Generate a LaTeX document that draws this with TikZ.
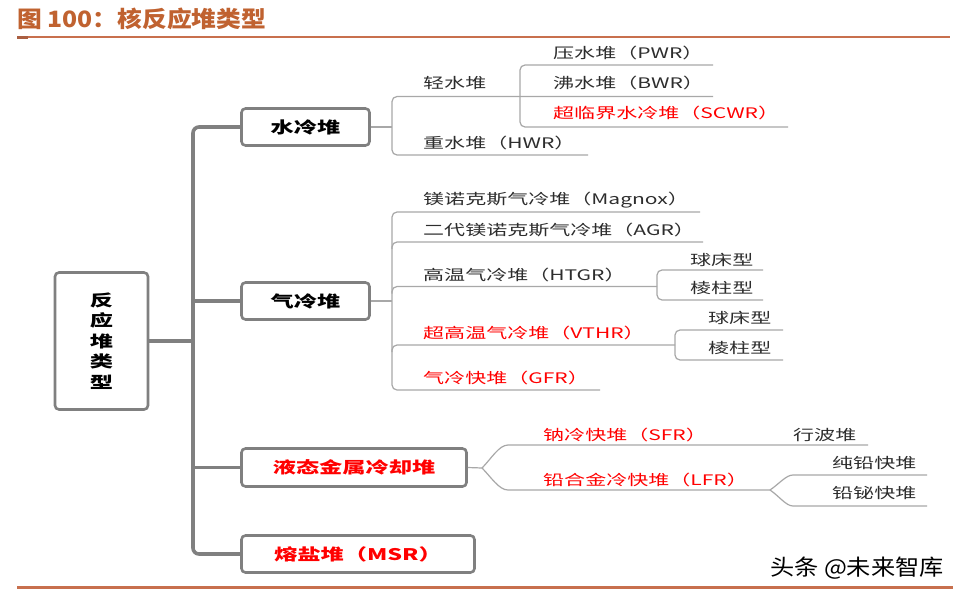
\documentclass[tikz,border=0pt]{standalone}
\usepackage{fontspec}
\newfontfamily\cjk[FakeStretch=1.45]{Noto Sans CJK SC}
\newfontfamily\hdfont[FakeStretch=1.1]{Noto Sans CJK SC}
\definecolor{hdc}{RGB}{192,98,48}
\definecolor{rulec}{RGB}{200,112,78}
\definecolor{boxc}{RGB}{128,128,128}
\definecolor{brc}{RGB}{168,168,168}
\definecolor{txtc}{RGB}{45,45,45}
\definecolor{redc}{RGB}{255,0,0}
\begin{document}
\begin{tikzpicture}[x=1pt,y=-1pt,
  box/.style={draw=boxc, line width=2.6pt, rounded corners=4pt, fill=white,
    font=\cjk\bfseries\fontsize{16}{20.5}\selectfont, inner sep=0pt},
  lbl/.style={anchor=west, inner sep=0pt, font=\cjk\fontsize{14.5}{16}\selectfont, text=txtc},
  rlbl/.style={lbl, text=redc},
  trunk/.style={draw=boxc, line width=3.6pt, rounded corners=6pt},
  br/.style={draw=brc, line width=1.2pt, rounded corners=5pt},
]
\useasboundingbox (0,0) rectangle (963,597);
\fill[white] (0,0) rectangle (963,597);

% header
\node[anchor=west, inner sep=0pt, text=hdc, font=\hdfont\bfseries\fontsize{22.5}{24}\selectfont] (title) at (17,19) {图 100：核反应堆类型};
\draw[rulec, line width=2pt] (17,36.5) -- (950,36.5);
\fill[rulec!85!black] (17,36) rectangle (28,38.5);
\draw[rulec, line width=3pt] (17,587) -- (953,587);

% boxes
\node[box, minimum width=93pt, minimum height=137pt, align=center] (root) at (101.5,341) {反\\应\\堆\\类\\型};
\node[box, minimum width=128pt, minimum height=37pt] (water) at (305.5,127) {水冷堆};
\node[box, minimum width=128pt, minimum height=37pt] (gas) at (305.5,301) {气冷堆};
\node[box, minimum width=225pt, minimum height=38pt, text=redc] (lm) at (354,467.5) {液态金属冷却堆};
\node[box, minimum width=233pt, minimum height=37pt, text=redc] (msr) at (358,554) {熔盐堆（MSR）};

% trunk
\coordinate (tk) at (193,341);
\draw[trunk] (water.west) -| (tk) |- (msr.west);
\draw[trunk] (root.east) -- (tk);
\draw[trunk] (gas.west) -- (gas.west -| tk);
\draw[trunk] (lm.west) -- (lm.west -| tk);

% water-cooled
\coordinate (wb) at (392,127);
\coordinate (lwE) at (713,96.5);
\coordinate (hwrE) at (588,155);
\coordinate (ib) at (520,96.5);
\coordinate (pwrE) at (713,65);
\coordinate (scwrE) at (788,127);
\draw[br] (water.east) -- (wb);
\draw[br] (lwE) -- (lwE -| wb) |- (hwrE);
\draw[br] (pwrE) -| (ib) |- (scwrE);
\node[lbl] (lw) at (423,83) {轻水堆};
\node[lbl] (pwr) at (553,53) {压水堆（PWR）};
\node[lbl] (bwr) at (553,83) {沸水堆（BWR）};
\node[rlbl] (scwr) at (553,113) {超临界水冷堆（SCWR）};
\node[lbl] (hwr) at (423,143) {重水堆（HWR）};

% gas-cooled
\coordinate (gb) at (392,301);
\coordinate (mgE) at (700,212);
\coordinate (gfrE) at (600,390);
\coordinate (agrE) at (703,242);
\coordinate (agrJ) at (392,249);
\coordinate (htB) at (657,286.5);
\coordinate (htJ) at (392,293.5);
\coordinate (vtB) at (675,345);
\coordinate (vtJ) at (392,352);
\coordinate (ht1) at (763,270);
\coordinate (ht2) at (763,300);
\coordinate (vt1) at (783,330);
\coordinate (vt2) at (783,360);
\draw[br] (gas.east) -- (gb);
\draw[br] (mgE) -| (gb) |- (gfrE);
\draw[br] (agrJ) |- (agrE);
\draw[br] (htJ) |- (htB);
\draw[br] (vtJ) |- (vtB);
\draw[br] (ht1) -| (htB) |- (ht2);
\draw[br] (vt1) -| (vtB) |- (vt2);
\node[lbl] (mg) at (423,200) {镁诺克斯气冷堆（Magnox）};
\node[lbl] (agr) at (423,230) {二代镁诺克斯气冷堆（AGR）};
\node[lbl] (htgr) at (423,275) {高温气冷堆（HTGR）};
\node[lbl] (ht1t) at (690,260) {球床型};
\node[lbl] (ht2t) at (690,288) {棱柱型};
\node[rlbl] (vthr) at (423,333) {超高温气冷堆（VTHR）};
\node[lbl] (vt1t) at (708,318) {球床型};
\node[lbl] (vt2t) at (708,348) {棱柱型};
\node[rlbl] (gfr) at (423,378) {气冷快堆（GFR）};

% liquid metal
\coordinate (lj) at (482,468);
\coordinate (sfrS) at (513,445);
\coordinate (sfrE) at (868,445);
\coordinate (lfrS) at (513,490);
\coordinate (lfrJ) at (770,490);
\coordinate (p1S) at (798,475);
\coordinate (p1E) at (927,475);
\coordinate (p2S) at (798,506);
\coordinate (p2E) at (927,506);
\draw[br] (lm.east) -- (lj);
\draw[br] (lj) .. controls +(9,-9) and +(-14,0) .. (sfrS) -- (sfrE);
\draw[br] (lj) .. controls +(9,9) and +(-14,0) .. (lfrS) -- (lfrJ);
\draw[br] (lfrJ) .. controls +(9,-6) and +(-12,0) .. (p1S) -- (p1E);
\draw[br] (lfrJ) .. controls +(9,6) and +(-12,0) .. (p2S) -- (p2E);
\node[rlbl] (sfr) at (543,435) {钠冷快堆（SFR）};
\node[lbl] (tw) at (793,435) {行波堆};
\node[rlbl] (lfr) at (543,480) {铅合金冷快堆（LFR）};
\node[lbl] (pb) at (832,463) {纯铅快堆};
\node[lbl] (pbbi) at (832,493) {铅铋快堆};

% watermark
\node[anchor=west, inner sep=0pt, font=\hdfont\fontsize{22}{24}\selectfont] (wm) at (770,568) {头条 @未来智库};
\end{tikzpicture}
\end{document}
